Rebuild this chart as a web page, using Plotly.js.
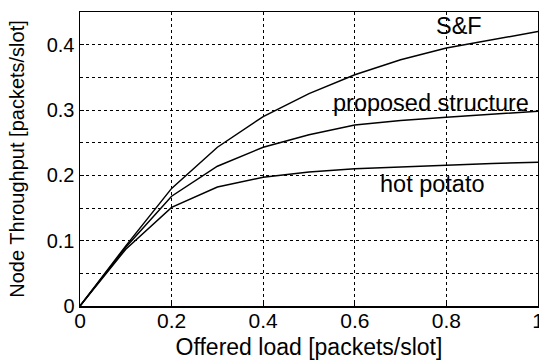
<!DOCTYPE html>
<html>
<head>
<meta charset="utf-8">
<script src="https://cdn.plot.ly/plotly-3.0.1.min.js"></script>
<style>html,body{margin:0;padding:0;background:#fff;}#chart{width:539px;height:360px;}</style>
</head>
<body>
<div id="chart"></div>
<script>
// Data
var offeredLoad = [0, 0.1, 0.2, 0.3, 0.4, 0.5, 0.6, 0.7, 0.8, 0.9, 1.0];
var sfThroughput = [0, 0.092, 0.180, 0.243, 0.290, 0.325, 0.354, 0.377, 0.395, 0.408, 0.420];
var proposedThroughput = [0, 0.090, 0.168, 0.214, 0.243, 0.262, 0.277, 0.284, 0.289, 0.294, 0.298];
var hotPotatoThroughput = [0, 0.087, 0.151, 0.182, 0.197, 0.205, 0.210, 0.213, 0.216, 0.218, 0.220];
var seriesNames = ['S&F', 'proposed structure', 'hot potato'];
var xTickVals = [0, 0.2, 0.4, 0.6, 0.8, 1];
var xTickText = ['0', '0.2', '0.4', '0.6', '0.8', '1'];
var yTickVals = [0, 0.1, 0.2, 0.3, 0.4];
var yTickText = ['0', '0.1', '0.2', '0.3', '0.4'];
var labelX = [0.827, 0.767, 0.769];
var labelY = [0.428, 0.311, 0.186];

var font = 'Liberation Sans, Arial, Helvetica, sans-serif';
var series = [sfThroughput, proposedThroughput, hotPotatoThroughput];
var traces = series.map(function (ys, i) {
  return {
    x: offeredLoad, y: ys, type: 'scatter', mode: 'lines', name: seriesNames[i],
    line: {color: '#000', width: 1.5}, hoverinfo: 'skip', cliponaxis: false
  };
});

var annotations = seriesNames.map(function (n, i) {
  return {
    x: labelX[i], y: labelY[i], xref: 'x', yref: 'y', text: n, showarrow: false,
    xanchor: 'center', yanchor: 'middle', font: {family: font, size: 23.5, color: '#000'}
  };
});

var gridStyle = {gridcolor: '#000', gridwidth: 1, griddash: '3px,3px'};

var layout = {
  width: 539, height: 360,
  margin: {l: 80, r: 1, t: 12, b: 54, pad: 0},
  paper_bgcolor: '#fff', plot_bgcolor: '#fff',
  showlegend: false,
  font: {family: font, color: '#000'},
  xaxis: Object.assign({
    range: [0, 1], tickmode: 'array', tickvals: xTickVals, ticktext: xTickText,
    showgrid: true, zeroline: false, showline: true, linecolor: '#000', linewidth: 1.5,
    mirror: true, ticks: 'inside', ticklen: 4, tickcolor: '#000',
    ticklabeloverflow: 'allow', ticklabelstandoff: -5,
    tickfont: {family: font, size: 21, color: '#000'},
    title: {text: 'Offered load [packets/slot]', font: {family: font, size: 23, color: '#000'}, standoff: 17}
  }, gridStyle),
  yaxis: Object.assign({
    range: [0, 0.45], tickmode: 'array', tickvals: yTickVals, ticktext: yTickText,
    showgrid: true, zeroline: false, showline: true, linecolor: '#000', linewidth: 1.5,
    mirror: true, ticks: 'inside', ticklen: 4, tickcolor: '#000',
    ticklabeloverflow: 'allow',
    tickfont: {family: font, size: 20, color: '#000'},
    minor: {dtick: 0.05, tick0: 0, showgrid: true, gridcolor: '#000', gridwidth: 1, griddash: '3px,3px', ticks: ''},
    title: {text: 'Node Throughput [packets/slot]', font: {family: font, size: 20, color: '#000'}, standoff: 16}
  }, gridStyle),
  annotations: annotations
};

Plotly.newPlot('chart', traces, layout, {staticPlot: true, displayModeBar: false});
</script>
</body>
</html>
